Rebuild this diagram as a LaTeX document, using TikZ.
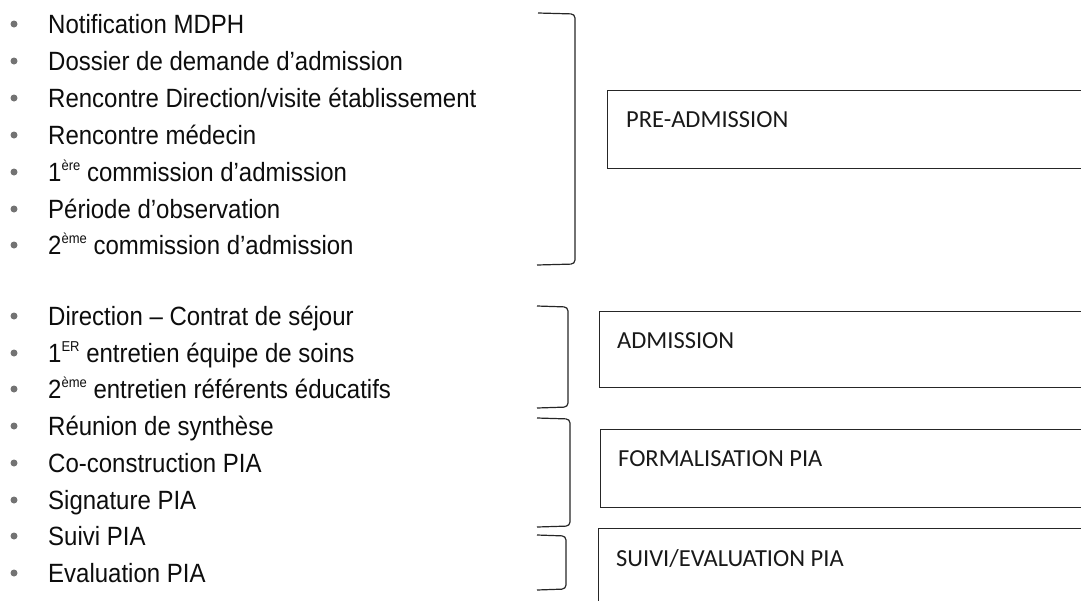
\documentclass[tikz,border=0pt]{standalone}
\usepackage{fontspec}
\setmainfont{Liberation Sans}
\newfontfamily\boxfont{Carlito}
\newcommand\expo[1]{\raisebox{10pt}{\fontsize{13}{13}\selectfont #1}}
\begin{document}
\begin{tikzpicture}[x=1pt,y=-1pt,
  item/.style={anchor=base west, inner sep=0pt, font=\fontsize{24}{28}\selectfont, text=black!95},
  dot/.style={circle, fill=black!55, inner sep=0pt, minimum size=7pt},
  phase/.style={draw=black!85, line width=1.2pt, anchor=north west, inner sep=0pt, minimum width=520pt},
  phaselabel/.style={anchor=base west, inner sep=0pt, font=\boxfont\fontsize{24.5}{28}\selectfont, text=black!90},
  brk/.style={draw=black!85, line width=1.2pt, rounded corners=4pt}]
\useasboundingbox (0,0) rectangle (1081,600);
\clip (0,0) rectangle (1081,600);
% list items
\foreach \n/\y/\t in {
  1/33/{Notification MDPH},
  2/70/{Dossier de demande d’admission},
  3/107/{Rencontre Direction/visite établissement},
  4/144/{Rencontre médecin},
  5/181/{1\expo{ère} commission d’admission},
  6/218/{Période d’observation},
  7/254/{2\expo{ème} commission d’admission},
  8/325/{Direction – Contrat de séjour},
  9/362/{1\expo{ER} entretien équipe de soins},
  10/398/{2\expo{ème} entretien référents éducatifs},
  11/435/{Réunion de synthèse},
  12/472/{Co-construction PIA},
  13/509/{Signature PIA},
  14/545/{Suivi PIA},
  15/582/{Evaluation PIA}}{
  \node[item] (i\n) at (48,\y) {\scalebox{1}[1.1]{\t}};
  \node[dot] (d\n) at (14,\y-9) {};
}
% phase boxes
\node[phase, minimum height=78pt] (b1) at (607,90) {};
\node[phaselabel] (l1) at (626,127) {PRE-ADMISSION};
\node[phase, minimum height=76pt] (b2) at (599,311) {};
\node[phaselabel] (l2) at (617,348) {ADMISSION};
\node[phase, minimum height=78pt] (b3) at (600,429) {};
\node[phaselabel] (l3) at (618,466) {FORMALISATION PIA};
\node[phase, minimum height=90pt] (b4) at (598,528) {};
\node[phaselabel] (l4) at (616,566) {SUIVI/EVALUATION PIA};
% brackets
\coordinate (k1a) at (538,13);  \coordinate (k1b) at (537,265);
\coordinate (k2a) at (537,306); \coordinate (k2b) at (537,408);
\coordinate (k3a) at (537,418); \coordinate (k3b) at (537,527);
\coordinate (k4a) at (537,535); \coordinate (k4b) at (537,590);
\draw[brk] (k1a) -- (575,14) -- (575,264) -- (k1b);
\draw[brk] (k2a) -- (568,307) -- (568,407) -- (k2b);
\draw[brk] (k3a) -- (570,419) -- (570,526) -- (k3b);
\draw[brk] (k4a) -- (566,536) -- (566,589) -- (k4b);
\end{tikzpicture}
\end{document}
